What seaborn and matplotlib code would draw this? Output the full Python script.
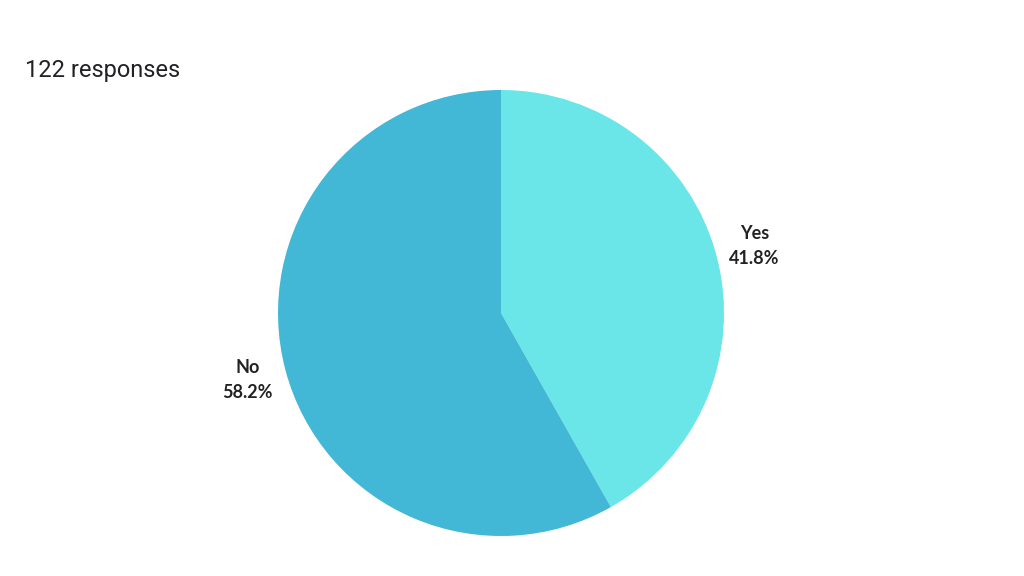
import matplotlib
matplotlib.use("Agg")
import matplotlib.pyplot as plt
import seaborn as sns

answers = ["Yes", "No"]
counts = [51, 71]
colours = ["#6ae5e8", "#42b7d6"]

sns.set_theme(style="white")
plt.rcParams["font.family"] = ["Lato", "DejaVu Sans"]

total = sum(counts)
labels = [f"{a}\n{c / total * 100:.1f}%" for a, c in zip(answers, counts)]

fig = plt.figure(figsize=(10.24, 5.76), dpi=100)
fig.patch.set_facecolor("white")

# pie centre ~ (501, 313) px, radius ~ 223 px
cx, cy, r = 501, 313, 223
ax = fig.add_axes([(cx - r) / 1024, (576 - cy - r) / 576, 2 * r / 1024, 2 * r / 576])
wedges, texts = ax.pie(counts, labels=labels, colors=colours, startangle=90,
                       counterclock=False, labeldistance=1.175,
                       wedgeprops=dict(linewidth=0),
                       textprops=dict(fontsize=13, fontweight="bold", color="#222222",
                                      linespacing=1.55))
for t in texts:
    t.set_ha("center")
    t.set_va("center")
ax.set_xlim(-1, 1)
ax.set_ylim(-1, 1)
ax.set_aspect("equal")
ax.axis("off")

fig.text(25 / 1024, 1 - 70 / 576, f"{total} responses", fontsize=17, color="#202124",
         family=["Roboto", "DejaVu Sans"], ha="left", va="center")

fig.savefig("out.png", dpi=100, facecolor="white")
